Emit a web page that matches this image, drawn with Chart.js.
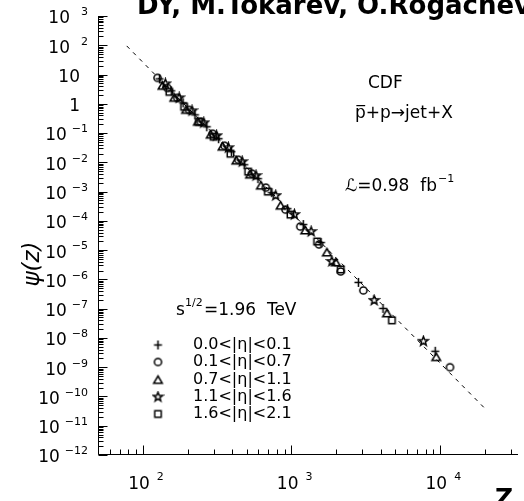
<!DOCTYPE html>
<html>
<head>
<meta charset="utf-8">
<script src="https://cdn.jsdelivr.net/npm/chart.js@4.4.1/dist/chart.umd.min.js"></script>
<style>
  html, body { margin: 0; padding: 0; background: #fff; overflow: hidden; }
  canvas { display: block; }
</style>
</head>
<body>
<canvas id="chart" width="524" height="501"></canvas>
<script>
// ***** data: z and psi(z) per |eta| bin *****
const etaBins = ["0.0<|η|<0.1", "0.1<|η|<0.7", "0.7<|η|<1.1", "1.1<|η|<1.6", "1.6<|η|<2.1"];
const markerKinds = ["plus", "circle", "triangle", "star", "square"];

const zBin1 = [129.6, 155.6, 186.8, 224.4, 269.5, 323.6, 394.5, 481.1, 595.5, 737.4, 940.9, 1201, 1580, 2821, 4130, 9270];
const psiBin1 = [7.1, 2.77, 1.08, 0.42, 0.164, 0.064, 0.0231, 0.0083, 0.00277, 9.2e-4, 2.6e-4, 7.5e-5, 1.82e-5, 7.9e-7, 1.02e-7, 3.5e-9];

const zBin2 = [125.7, 146.4, 170.5, 204.8, 245.9, 295.3, 354.5, 439, 543.4, 672.9, 912.7, 1147, 1533, 2144, 3045, 11650];
const psiBin2 = [7.7, 3.5, 1.6, 0.62, 0.243, 0.095, 0.037, 0.0123, 0.0041, 1.37e-3, 2.43e-4, 6.4e-5, 1.56e-5, 1.87e-6, 4.2e-7, 1.0e-9];

const zBin3 = [135.7, 162.9, 195.6, 234.9, 286.4, 343.9, 425.9, 527.1, 623.4, 845.7, 1238, 1732, 1987, 4391, 9412];
const psiBin3 = [4.1, 1.6, 0.62, 0.243, 0.0877, 0.0342, 0.0114, 0.0038, 1.6e-3, 3.3e-4, 4.7e-5, 8.3e-6, 3.8e-6, 6.9e-8, 2.2e-9];

const zBin4 = [142.0, 175.8, 214.4, 257.4, 313.9, 376.8, 466.7, 577.6, 783.7, 1047, 1357, 1869, 3601, 7720];
const psiBin4 = [4.8, 1.6, 0.577, 0.225, 0.081, 0.0316, 0.0105, 3.5e-3, 7.3e-4, 1.64e-4, 4.3e-5, 4.1e-6, 1.92e-7, 7.7e-9];

const zBin5 = [150.9, 189.7, 238.5, 299.8, 388.5, 511.3, 693.7, 984.9, 1487, 2144, 4738];
const psiBin5 = [2.56, 0.79, 0.243, 0.075, 0.0197, 4.8e-3, 1.0e-3, 1.64e-4, 1.97e-5, 2.19e-6, 4.0e-8];

// dashed fit line
const zFit = [78, 1000, 19900];
const psiFit = [95, 1.9e-4, 4e-11];

// axes
const zMin = 50, zMax = 33400;
const psiMinExp = -12, psiMaxExp = 3;
const xLabelExps = [2, 3, 4];

const zLists = [zBin1, zBin2, zBin3, zBin4, zBin5];
const psiLists = [psiBin1, psiBin2, psiBin3, psiBin4, psiBin5];
const toPoints = (xs, ys) => xs.map((v, i) => ({ x: v, y: ys[i] }));

// open black markers drawn on small canvases
function makeMarker(kind) {
  const s = 13, c = 6.5;
  const cv = document.createElement("canvas");
  cv.width = s;
  cv.height = s;
  const g = cv.getContext("2d");
  g.strokeStyle = "#000";
  g.lineWidth = 1.5;
  g.beginPath();
  if (kind === "plus") {
    g.moveTo(c - 4, c); g.lineTo(c + 4, c);
    g.moveTo(c, c - 4.5); g.lineTo(c, c + 4.5);
  } else if (kind === "circle") {
    g.arc(c, c, 3.6, 0, Math.PI * 2);
  } else if (kind === "triangle") {
    g.moveTo(c, c - 4); g.lineTo(c + 4.3, c + 3.3); g.lineTo(c - 4.3, c + 3.3); g.closePath();
  } else if (kind === "star") {
    for (let i = 0; i < 10; i++) {
      const r = i % 2 ? 2 : 4.8;
      const a = -Math.PI / 2 + (i * Math.PI) / 5;
      const px = c + r * Math.cos(a), py = c + r * Math.sin(a);
      if (i) g.lineTo(px, py); else g.moveTo(px, py);
    }
    g.closePath();
  } else {
    g.rect(c - 3.2, c - 3.2, 6.4, 6.4);
  }
  g.stroke();
  return cv;
}
const markers = markerKinds.map(makeMarker);

const datasets = etaBins.map((label, i) => ({
  label,
  data: toPoints(zLists[i], psiLists[i]),
  pointStyle: markers[i],
  pointRadius: 5,
  showLine: false,
}));
datasets.push({
  label: "fit",
  data: toPoints(zFit, psiFit),
  showLine: true,
  borderColor: "#000",
  borderWidth: 1,
  borderDash: [4, 5],
  pointRadius: 0,
});

const FONT = '"DejaVu Sans", sans-serif';

// axes with inward ticks, labels and texts
const frame = {
  id: "frame",
  afterDraw(chart) {
    const { ctx, chartArea: a, scales: { x, y } } = chart;
    ctx.save();
    ctx.strokeStyle = "#000";
    ctx.fillStyle = "#000";
    ctx.lineWidth = 1;
    const L = Math.round(a.left) + 0.5;
    const B = Math.round(a.bottom) - 0.5;

    ctx.beginPath();
    ctx.moveTo(L, a.top); ctx.lineTo(L, B); ctx.lineTo(a.right, B);
    for (let e = psiMinExp; e <= psiMaxExp; e++) {
      for (let k = 1; k <= 9; k++) {
        if (e === psiMaxExp && k > 1) break;
        const py = Math.round(y.getPixelForValue(k * Math.pow(10, e))) + 0.5;
        ctx.moveTo(L, py); ctx.lineTo(L + (k === 1 ? 9 : 5), py);
      }
    }
    for (let e = 1; e <= 5; e++) {
      for (let k = 1; k <= 9; k++) {
        const v = k * Math.pow(10, e);
        if (v < zMin || v > zMax) continue;
        const px = Math.round(x.getPixelForValue(v)) + 0.5;
        ctx.moveTo(px, B); ctx.lineTo(px, B - (k === 1 ? 9 : 5));
      }
    }
    ctx.stroke();

    // y tick labels
    ctx.textBaseline = "middle";
    for (let e = psiMinExp; e <= psiMaxExp; e++) {
      const py = y.getPixelForValue(Math.pow(10, e));
      ctx.textAlign = "right";
      if (e === 0 || e === 1) {
        ctx.font = "17px " + FONT;
        ctx.fillText(e === 0 ? "1" : "10", 80, py + 3);
        continue;
      }
      const sup = e < 0 ? "−" + -e : String(e);
      ctx.font = "11px " + FONT;
      ctx.fillText(sup, 88, py - 3.5);
      const w = ctx.measureText(sup).width;
      ctx.font = "17px " + FONT;
      ctx.fillText("10", 88 - w - (e < 0 ? 5 : 11), py + 3);
    }

    // x tick labels
    xLabelExps.forEach((e) => {
      const px = x.getPixelForValue(Math.pow(10, e));
      ctx.font = "17px " + FONT;
      ctx.textAlign = "right";
      ctx.fillText("10", px + 7, 485);
      ctx.font = "11px " + FONT;
      ctx.textAlign = "left";
      ctx.fillText(String(e), px + 14, 477);
    });

    // titles
    ctx.textBaseline = "alphabetic";
    ctx.textAlign = "left";
    ctx.font = "bold 26px " + FONT;
    ctx.fillText("DY, M.Tokarev, O.Rogachevsky", 137, 14);
    ctx.font = "bold 25px " + FONT;
    ctx.fillText("Z", 495, 506);

    ctx.save();
    ctx.translate(33, 264);
    ctx.rotate(-Math.PI / 2);
    ctx.textAlign = "center";
    ctx.textBaseline = "middle";
    ctx.font = "italic 23px " + FONT;
    ctx.fillText("ψ(z)", 0, 0);
    ctx.restore();

    // annotations
    ctx.font = "17px " + FONT;
    ctx.fillText("CDF", 368, 88);
    ctx.fillText("p\u0305+p→jet+X", 355, 118);
    ctx.fillText("ℒ=0.98  fb", 345, 191);
    let w = ctx.measureText("ℒ=0.98  fb").width;
    ctx.font = "11px " + FONT;
    ctx.fillText("−1", 345 + w + 1, 182);

    ctx.font = "17px " + FONT;
    ctx.fillText("s", 176, 315);
    ctx.font = "11px " + FONT;
    ctx.fillText("1/2", 185, 306);
    ctx.font = "17px " + FONT;
    ctx.fillText("=1.96  TeV", 204, 315);

    // legend
    const rows = [345, 362, 380, 397, 414];
    ctx.textBaseline = "middle";
    ctx.font = "16px " + FONT;
    etaBins.forEach((label, i) => {
      ctx.drawImage(markers[i], 158 - 6.5, rows[i] - 6.5);
      ctx.fillText(label, 193, rows[i]);
    });
    ctx.restore();
  },
};

const config = {
  type: "scatter",
  data: { datasets },
  options: {
    responsive: false,
    animation: false,
    layout: { padding: { left: 98, top: 16, right: 0, bottom: 46 } },
    scales: {
      x: { type: "logarithmic", min: zMin, max: zMax, display: false },
      y: { type: "logarithmic", min: Math.pow(10, psiMinExp), max: Math.pow(10, psiMaxExp), display: false },
    },
    plugins: {
      legend: { display: false },
      tooltip: { enabled: false },
    },
  },
  plugins: [frame],
};

const zScalingChart = new Chart(document.getElementById("chart"), config);
</script>
</body>
</html>
